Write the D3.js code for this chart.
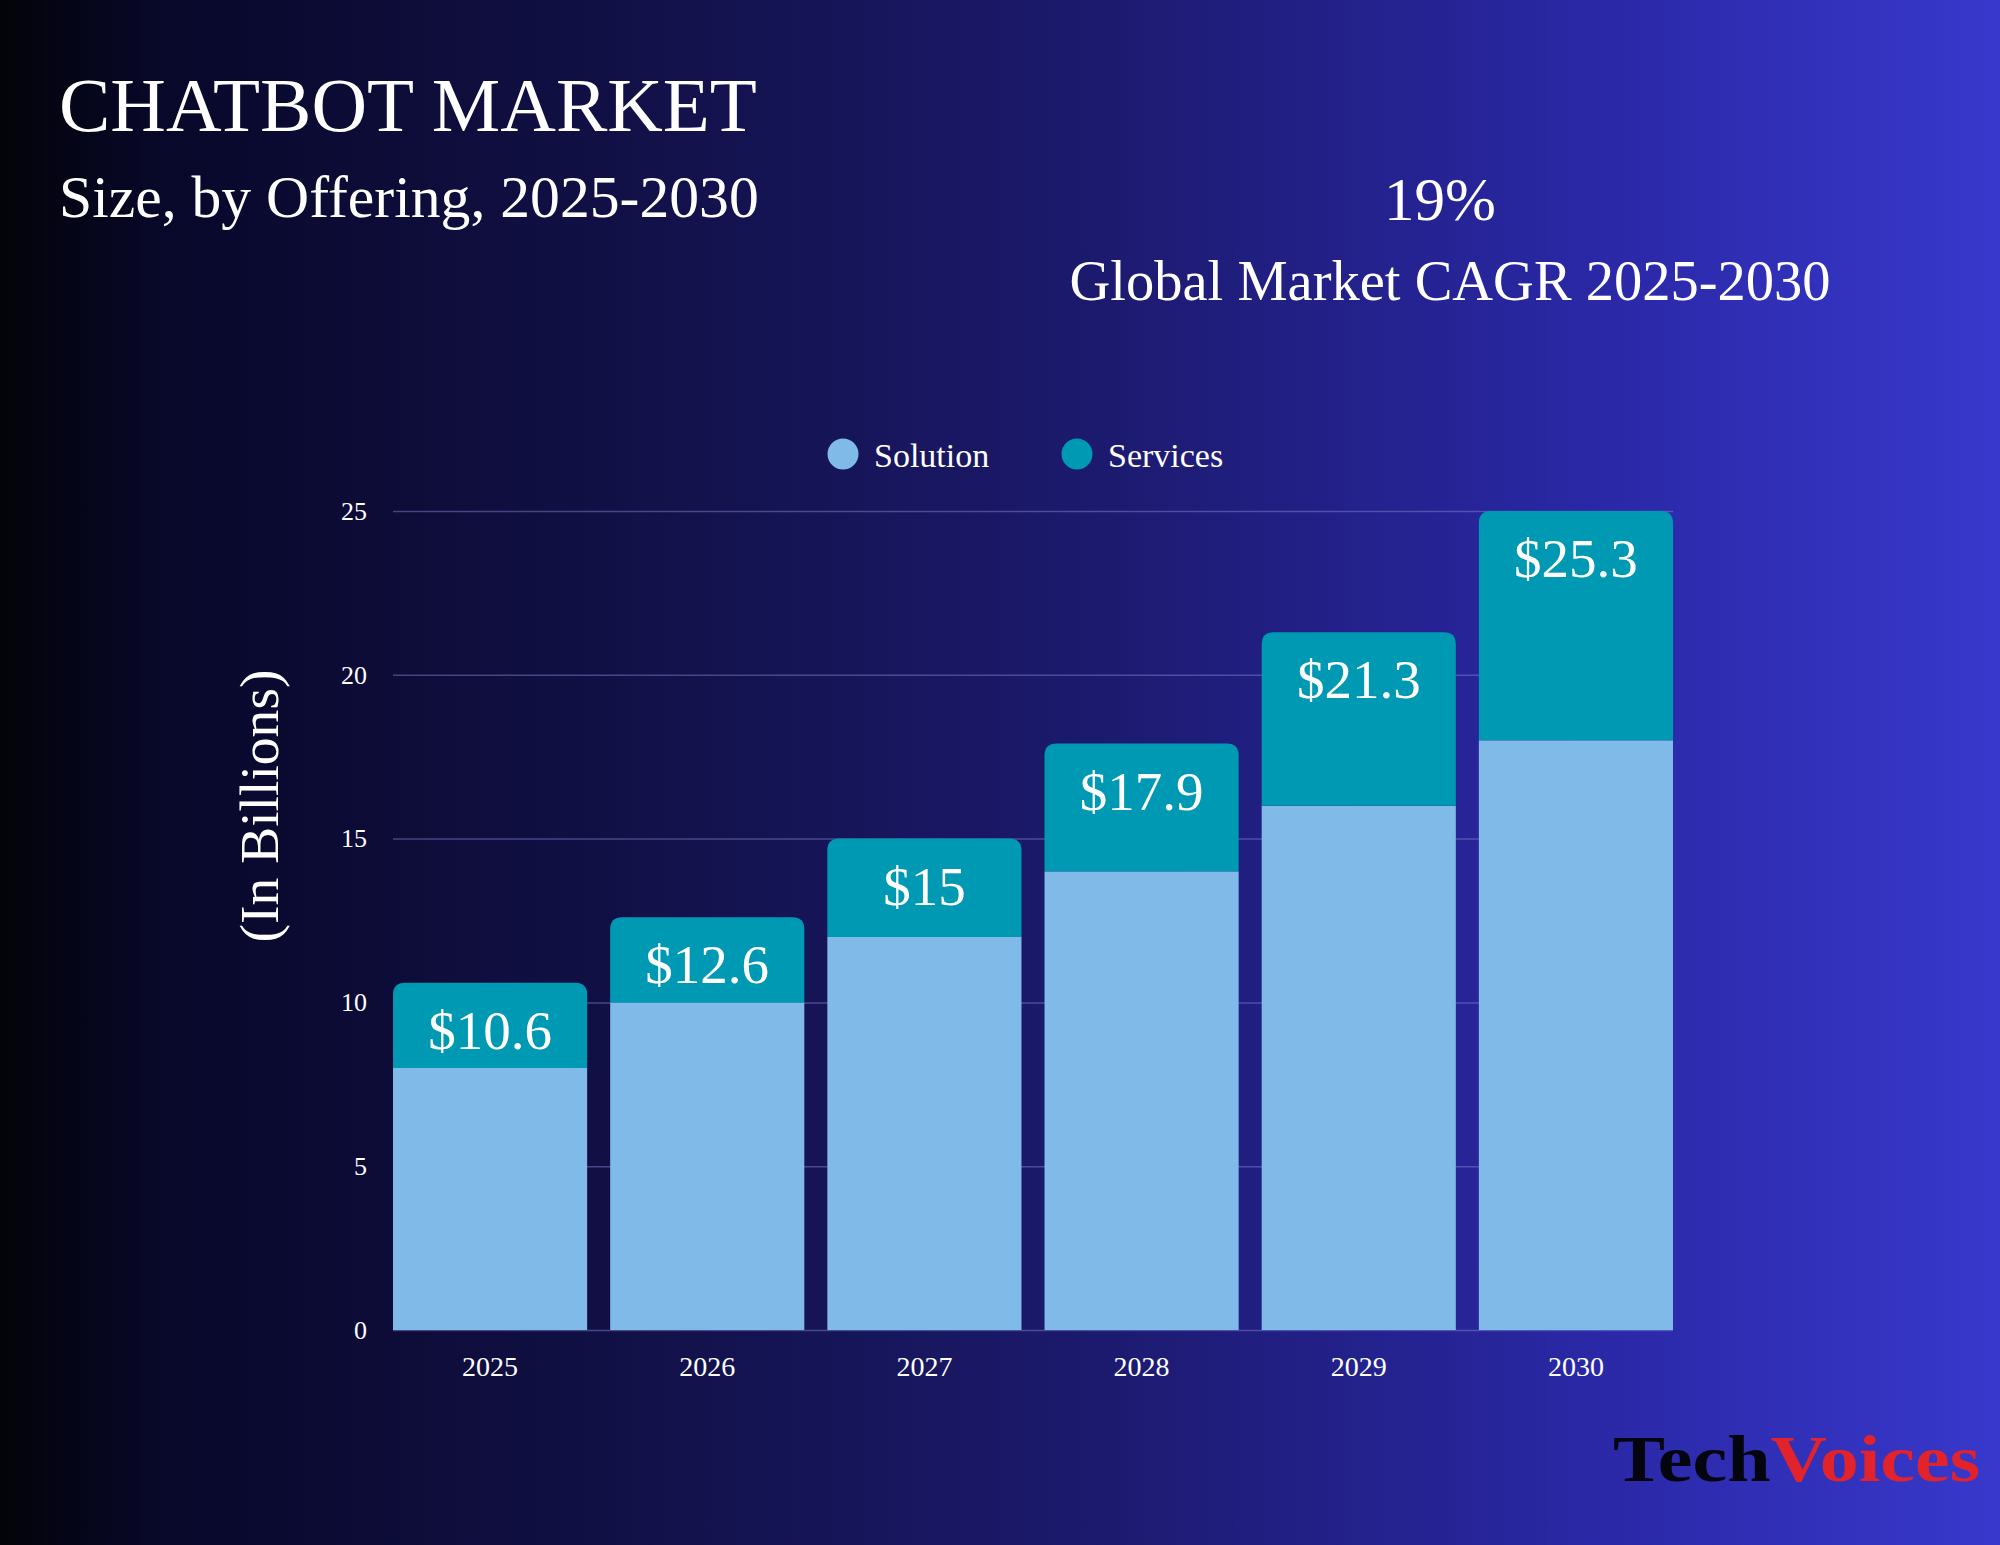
<!DOCTYPE html>
<html>
<head>
<meta charset="utf-8">
<script src="https://cdn.jsdelivr.net/npm/d3@7"></script>
<style>
  html, body { margin: 0; padding: 0; background: #000; }
  svg { display: block; }
  text { font-family: "Liberation Serif", "DejaVu Serif", serif; fill: #fff; }
</style>
</head>
<body>
<svg id="chart" width="2000" height="1545"></svg>
<script>
// chart data
const years = ['2025', '2026', '2027', '2028', '2029', '2030'];
const solution = [8, 10, 12, 14, 16, 18];
const services = [2.6, 2.6, 3, 3.9, 5.3, 7.3];
const totals = [10.6, 12.6, 15, 17.9, 21.3, 25.3];
const yTicks = [0, 5, 10, 15, 20, 25];
const seriesNames = ['Solution', 'Services'];
const seriesColors = ['#7fbae8', '#0099b4'];

const W = 2000, H = 1545;
const svg = d3.select('#chart');

// background gradient, dark on the left to violet-blue on the right
const defs = svg.append('defs');
const grad = defs.append('linearGradient')
    .attr('id', 'bg')
    .attr('x1', '0%').attr('x2', '100%')
    .attr('y1', '0%').attr('y2', '0%');
[[0, '#030309'], [0.08, '#08082a'], [0.3, '#111045'], [0.55, '#1c1a6e'], [0.8, '#2a28a6'], [1, '#3838cc']]
    .forEach(([o, c]) => grad.append('stop').attr('offset', o).attr('stop-color', c));
svg.append('rect').attr('width', W).attr('height', H).attr('fill', 'url(#bg)');

// scale the font so the text gets a given width
function fit(sel, width) {
    const fs = parseFloat(sel.attr('font-size'));
    const len = sel.node().getComputedTextLength();
    sel.attr('font-size', fs * width / len);
    return sel;
}

// titles
fit(svg.append('text').attr('x', 59).attr('y', 131).attr('font-size', 80)
    .text('CHATBOT MARKET'), 698);
fit(svg.append('text').attr('x', 59).attr('y', 217).attr('font-size', 56)
    .text('Size, by Offering, 2025-2030'), 700);
fit(svg.append('text').attr('x', 1440).attr('y', 220).attr('font-size', 66)
    .attr('text-anchor', 'middle').text('19%'), 112);
fit(svg.append('text').attr('x', 1450).attr('y', 300).attr('font-size', 58)
    .attr('text-anchor', 'middle').text('Global Market CAGR 2025-2030'), 761);

// scales (the axis stops at 25, so the last bar is cut at the top gridline)
const x = d3.scaleBand().domain(years).range([393, 1673]).paddingInner(0.106).paddingOuter(0);
const y = d3.scaleLinear().domain([0, 25]).range([1330, 511]).clamp(true);

// gridlines + y tick labels
const yAxis = svg.append('g')
    .attr('transform', 'translate(393,0)')
    .call(d3.axisLeft(y).tickValues(yTicks).tickSize(-(1673 - 393)).tickPadding(26));
yAxis.select('.domain').remove();
yAxis.selectAll('.tick line')
    .attr('stroke', '#8a8ad8').attr('stroke-opacity', 0.45).attr('stroke-width', 1.5);
yAxis.selectAll('.tick text')
    .attr('fill', '#fff').attr('font-size', 26)
    .attr('font-family', '"Liberation Serif", serif');

// x tick labels
const xAxis = svg.append('g')
    .attr('transform', 'translate(0,1330)')
    .call(d3.axisBottom(x).tickSize(0).tickPadding(26));
xAxis.select('.domain').remove();
xAxis.selectAll('.tick text')
    .attr('fill', '#fff').attr('font-size', 28)
    .attr('font-family', '"Liberation Serif", serif');

// y axis title
fit(svg.append('text')
    .attr('transform', 'translate(278,806) rotate(-90)')
    .attr('text-anchor', 'middle').attr('font-size', 55)
    .text('(In Billions)'), 273);

// rounded top corners for the stacked top segment
function roundTop(x0, y0, w, h, r) {
    return `M${x0},${y0 + h}V${y0 + r}Q${x0},${y0} ${x0 + r},${y0}` +
        `H${x0 + w - r}Q${x0 + w},${y0} ${x0 + w},${y0 + r}V${y0 + h}Z`;
}

const bars = svg.append('g').selectAll('g')
    .data(years)
    .join('g');

bars.append('rect')
    .attr('x', d => x(d))
    .attr('y', (d, i) => y(solution[i]))
    .attr('width', x.bandwidth())
    .attr('height', (d, i) => y(0) - y(solution[i]))
    .attr('fill', seriesColors[0]);

bars.append('path')
    .attr('d', (d, i) => roundTop(x(d), y(solution[i] + services[i]), x.bandwidth(),
        y(solution[i]) - y(solution[i] + services[i]), 12))
    .attr('fill', seriesColors[1]);

bars.append('text')
    .attr('x', d => x(d) + x.bandwidth() / 2)
    .attr('y', (d, i) => y(totals[i]) + 66)
    .attr('text-anchor', 'middle')
    .attr('font-size', 55)
    .attr('fill', '#eafcff')
    .text((d, i) => '$' + totals[i]);

// legend
const legendX = [843, 1077];
const legend = svg.append('g').selectAll('g')
    .data(seriesNames)
    .join('g')
    .attr('transform', (d, i) => `translate(${legendX[i]},454)`);
legend.append('circle').attr('r', 15.5).attr('fill', (d, i) => seriesColors[i]);
legend.append('text').attr('x', 31).attr('y', 13).attr('font-size', 34).text(d => d);

// logo
const logo = svg.append('text')
    .attr('x', 1613).attr('y', 1481)
    .attr('font-family', '"DejaVu Serif", serif')
    .attr('font-weight', 'bold')
    .attr('font-size', 66);
logo.append('tspan').attr('fill', '#050510').text('Tech');
logo.append('tspan').attr('fill', '#e3232b').text('Voices');
logo.attr('textLength', 367).attr('lengthAdjust', 'spacingAndGlyphs');
</script>
</body>
</html>
